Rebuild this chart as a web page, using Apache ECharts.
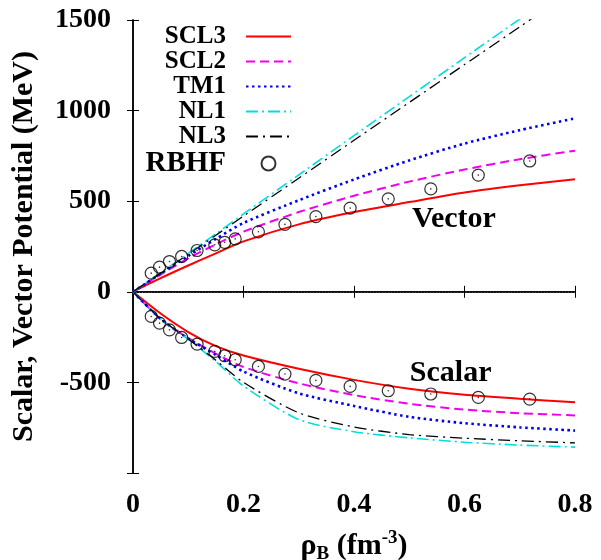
<!DOCTYPE html>
<html>
<head>
<meta charset="utf-8">
<script src="https://cdn.jsdelivr.net/npm/echarts@6/dist/echarts.min.js"></script>
<style>
html, body { margin: 0; padding: 0; background: #fff; }
#chart { width: 601px; height: 560px; }
</style>
</head>
<body>
<div id="chart"></div>
<script>
// density grid for the model curves (fm^-3)
const rho = [0, 0.05, 0.1, 0.15, 0.2, 0.3, 0.4, 0.5, 0.6, 0.7, 0.8]

// vector potentials (MeV)
const scl3V = [0, 75, 145, 212, 278, 372, 440, 495, 548, 588, 621]
const scl2V = [0, 95, 185, 262, 332, 440, 530, 608, 675, 732, 779]
const tm1V = [0, 100, 198, 292, 380, 505, 620, 725, 818, 892, 957]
const nl1V = [0, 105, 212, 320, 430, 645, 862, 1077, 1292, 1505, 1720]
const nl3V = [0, 103, 207, 312, 418, 627, 836, 1045, 1254, 1462, 1672]

// scalar potentials (MeV)
const scl3S = [0, -120, -222, -300, -352, -425, -486, -535, -568, -590, -610]
const scl2S = [0, -150, -255, -342, -415, -505, -570, -618, -650, -670, -682]
const tm1S = [0, -150, -258, -348, -440, -560, -630, -690, -725, -748, -766]
const nl1S = [0, -150, -262, -385, -520, -705, -772, -806, -830, -846, -857]
const nl3S = [0, -150, -260, -378, -500, -668, -746, -788, -808, -822, -834]

// RBHF points
const rbhfRho = [0.033, 0.048, 0.066, 0.088, 0.116, 0.148, 0.166, 0.185, 0.227, 0.275, 0.331, 0.393, 0.462, 0.539, 0.625, 0.718]
const rbhfV = [103, 136, 167, 195, 228, 259, 273, 292, 331, 372, 415, 462, 513, 568, 644, 722]
const rbhfS = [-136, -173, -210, -252, -289, -329, -353, -375, -412, -454, -489, -522, -546, -564, -583, -592]

const yTicks = [-1000, -500, 0, 500, 1000, 1500]

const font = '"Liberation Serif", "Times New Roman", serif'

function pairs(xs, ys) {
  return xs.map((x, i) => [x, ys[i]])
}

function curve(name, ys, color, width, type) {
  return {
    name: name,
    type: 'line',
    data: pairs(rho, ys),
    smooth: 0.25,
    symbol: 'none',
    showSymbol: false,
    lineStyle: { color: color, width: width, type: type },
    itemStyle: { color: color }
  }
}

const chart = echarts.init(document.getElementById('chart'))

const models = [
  ['SCL3', scl3V, scl3S, '#ff0000', 2, 'solid'],
  ['SCL2', scl2V, scl2S, '#f000f0', 2, [9, 5]],
  ['TM1', tm1V, tm1S, '#0000f0', 2.6, [2.5, 3.5]],
  ['NL1', nl1V, nl1S, '#00dede', 1.6, [12, 4, 2, 4]],
  ['NL3', nl3V, nl3S, '#000000', 1.3, [12, 5, 2, 5]]
]

const series = []
models.forEach(m => {
  series.push(curve(m[0], m[1], m[3], m[4], m[5]))
  series.push(curve(m[0], m[2], m[3], m[4], m[5]))
})

// zero line + annotations ride on the first series
series[0].markLine = {
  silent: true,
  symbol: 'none',
  label: { show: false },
  lineStyle: { color: '#444', width: 1, type: [1, 2] },
  data: [{ yAxis: 0 }]
}
series[0].markPoint = {
  symbol: 'circle',
  symbolSize: 0,
  label: {
    show: true,
    color: '#000',
    fontFamily: font,
    fontWeight: 'bold',
    fontSize: 30,
    formatter: p => p.name
  },
  data: [
    { name: 'Vector', coord: [0.581, 403] },
    { name: 'Scalar', coord: [0.575, -449] }
  ]
}

const rbhfStyle = { color: 'rgba(0,0,0,0)', borderColor: '#000', borderWidth: 1.2 }
series.push({
  name: 'RBHF',
  type: 'scatter',
  symbol: 'circle',
  symbolSize: 12,
  itemStyle: rbhfStyle,
  data: pairs(rbhfRho, rbhfV).concat(pairs(rbhfRho, rbhfS)),
  z: 5
})
series.push({
  name: 'dot',
  type: 'scatter',
  symbol: 'circle',
  symbolSize: 1.6,
  itemStyle: { color: '#000' },
  data: pairs(rbhfRho, rbhfV).concat(pairs(rbhfRho, rbhfS)),
  z: 6
})

const tickLabel = { color: '#000', fontFamily: font, fontWeight: 'bold', fontSize: 28 }
const noMark = { color: 'rgba(0,0,0,0)', borderWidth: 0 }

chart.setOption({
  animation: false,
  backgroundColor: '#fff',
  grid: { left: 133, right: 26, top: 20, bottom: 87, containLabel: false, outerBoundsMode: 'none' },
  legend: {
    orient: 'vertical',
    align: 'right',
    right: 309,
    top: 24,
    padding: 0,
    itemGap: 0,
    itemWidth: 45,
    itemHeight: 14,
    selectedMode: false,
    textStyle: { color: '#000', fontFamily: font, fontWeight: 'bold', fontSize: 25, padding: [0, 15, 0, 0] },
    data: [
      { name: 'SCL3', itemStyle: noMark },
      { name: 'SCL2', itemStyle: noMark },
      { name: 'TM1', itemStyle: noMark },
      { name: 'NL1', itemStyle: noMark },
      { name: 'NL3', itemStyle: noMark },
      { name: 'RBHF', textStyle: { fontSize: 29 } }
    ]
  },
  xAxis: [{
    type: 'value',
    min: 0, max: 0.8, interval: 0.2,
    axisLine: { show: true, lineStyle: { color: '#000', width: 1.5 } },
    axisTick: { show: true, inside: true, length: 6, lineStyle: { color: '#000' } },
    splitLine: { show: false },
    axisLabel: Object.assign({ margin: 18, formatter: v => v === 0 ? '0' : v.toFixed(1) }, tickLabel),
    name: '{r|ρ}{sub|B}{r| (fm}{sup|-3}{r|)}',
    nameLocation: 'middle',
    nameGap: 56,
    nameTextStyle: {
      color: '#000', fontFamily: font, fontWeight: 'bold', fontSize: 30,
      rich: {
        r: { fontFamily: font, fontWeight: 'bold', fontSize: 30, color: '#000' },
        sub: { fontFamily: font, fontWeight: 'bold', fontSize: 19, color: '#000', padding: [16, 0, 0, 0] },
        sup: { fontFamily: font, fontWeight: 'bold', fontSize: 19, color: '#000', padding: [0, 0, 16, 0] }
      }
    }
  }, {
    type: 'value',
    position: 'top',
    min: 0, max: 0.8, interval: 0.2,
    axisLine: { show: true, lineStyle: { color: '#000', width: 1.5 } },
    axisTick: { show: true, inside: true, length: 6, lineStyle: { color: '#000' } },
    splitLine: { show: false },
    axisLabel: { show: false }
  }],
  yAxis: [{
    type: 'value',
    min: yTicks[0], max: yTicks[yTicks.length - 1], interval: 500,
    axisLine: { show: true, lineStyle: { color: '#000', width: 1.5 } },
    axisTick: { show: true, inside: true, length: 6, lineStyle: { color: '#000' } },
    splitLine: { show: false },
    axisLabel: Object.assign({ margin: 22, formatter: v => v === yTicks[0] ? '' : String(v) }, tickLabel),
    name: 'Scalar, Vector Potential (MeV)',
    nameLocation: 'middle',
    nameGap: 94,
    nameTextStyle: { color: '#000', fontFamily: font, fontWeight: 'bold', fontSize: 30 }
  }, {
    type: 'value',
    position: 'right',
    min: yTicks[0], max: yTicks[yTicks.length - 1], interval: 500,
    axisLine: { show: true, lineStyle: { color: '#000', width: 1.5 } },
    axisTick: { show: true, inside: true, length: 6, lineStyle: { color: '#000' } },
    splitLine: { show: false },
    axisLabel: { show: false }
  }],
  series: series
})
</script>
</body>
</html>
